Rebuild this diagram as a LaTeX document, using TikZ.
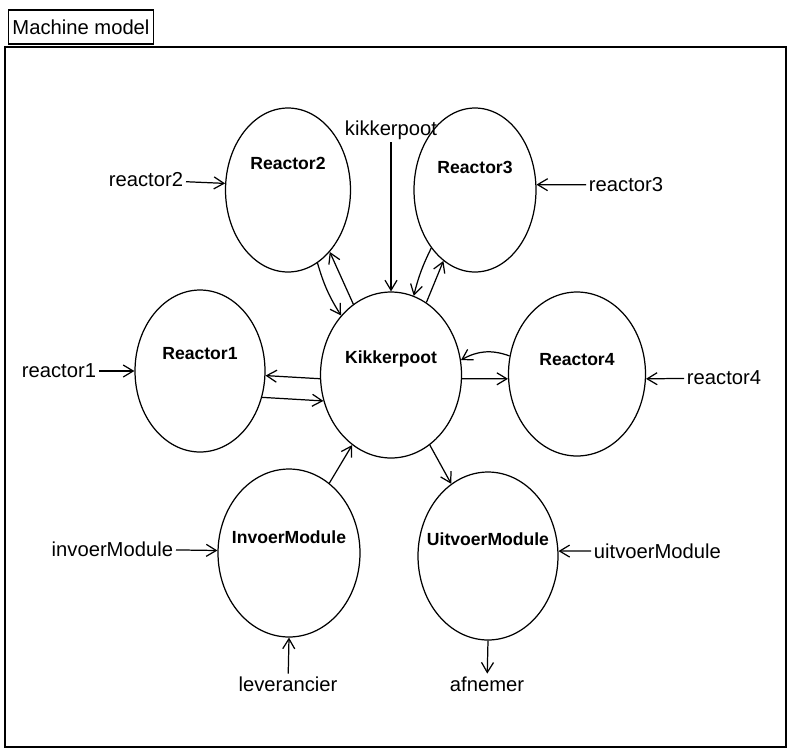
\documentclass[tikz,border=0pt]{standalone}
\usepackage{fontspec}
\setmainfont{Liberation Sans}
\usepackage{tikz}
\usetikzlibrary{arrows.meta, shapes.geometric}

\begin{document}
\begin{tikzpicture}[
  x=0.02cm, y=-0.02cm,
  unit/.style={draw, ellipse, line width=0.7pt, inner sep=0pt},
  unitname/.style={font=\bfseries\fontsize{10}{12}\selectfont, inner sep=0pt},
  lbl/.style={font=\fontsize{11.5}{13}\selectfont, inner sep=1.5pt},
  titlebox/.style={draw, line width=1pt, fill=white, minimum width=2.9cm, minimum height=0.68cm, inner sep=2pt, font=\fontsize{11.5}{13}\selectfont},
  frame/.style={line width=1.5pt},
  arrow/.style={-{Straight Barb[length=2mm, width=2.4mm]}, line width=0.7pt}
]
\useasboundingbox (0,0) rectangle (791,751);

% frame and title
\draw[frame] (5,47) rectangle (786,747);
\node[titlebox] (title) at (81,27) {Machine model};

% units
\node[unit, minimum width=2.5cm, minimum height=3.28cm, label={[unitname, yshift=0.54cm]center:Reactor2}] (r2) at (288,190) {};
\node[unit, minimum width=2.44cm, minimum height=3.28cm, label={[unitname, yshift=0.46cm]center:Reactor3}] (r3) at (475,190) {};
\node[unit, minimum width=2.6cm, minimum height=3.24cm, label={[unitname, yshift=0.34cm]center:Reactor1}] (r1) at (200,371) {};
\node[unit, minimum width=2.82cm, minimum height=3.32cm, label={[unitname, yshift=0.32cm]center:Kikkerpoot}] (kik) at (391,375) {};
\node[unit, minimum width=2.74cm, minimum height=3.28cm, label={[unitname, yshift=0.28cm]center:Reactor4}] (r4) at (577,374) {};
\node[unit, minimum width=2.84cm, minimum height=3.36cm, label={[unitname, yshift=0.32cm]center:InvoerModule}] (inv) at (289,553) {};
\node[unit, minimum width=2.8cm, minimum height=3.36cm, label={[unitname, yshift=0.34cm]center:UitvoerModule}] (uit) at (488,556) {};

% inputs and outputs
\node[lbl] (kin) at (391,130) {kikkerpoot};
\node[lbl, anchor=east] (r2in) at (186,180) {reactor2};
\node[lbl, anchor=west] (r3in) at (586,185) {reactor3};
\node[lbl, anchor=east] (r1in) at (99,371) {reactor1};
\node[lbl, anchor=west] (r4in) at (684,378) {reactor4};
\node[lbl, anchor=east] (invin) at (176,549) {invoerModule};
\node[lbl, anchor=west] (uitin) at (591,551) {uitvoerModule};
\node[lbl] (lev) at (288,684) {leverancier};
\node[lbl] (afn) at (487,684) {afnemer};

\draw[arrow] (kin) -- (kik.north);
\draw[arrow] (r2in) -- (r2.174);
\draw[arrow] (r3in) -- (r3.5);
\draw[arrow] (r1in) -- (r1.west);
\draw[arrow] (r4in) -- (r4.-4);
\draw[arrow] (invin) -- (inv.178);
\draw[arrow] (uitin) -- (uit.4);
\draw[arrow] (lev) -- (inv.south);
\draw[arrow] (uit.south) -- (afn);

% links to Kikkerpoot
\draw[arrow] (r2.-68) to[bend right=8] (kik.130);
\draw[arrow] (kik.118) -- (r2.-56);
\draw[arrow] (r3.-127) to[bend right=6] (kik.74);
\draw[arrow] (kik.64) -- (r3.-114);
\draw[arrow] (kik.183) -- (r1.-4);
\draw[arrow] (r1.-23) -- (kik.201);
\draw[arrow] (r4.165) to[bend right=25] (kik.12);
\draw[arrow] (kik.-3) -- (r4.184);
\draw[arrow] (inv.60) -- (kik.241);
\draw[arrow] (kik.-61) -- (uit.117);

\end{tikzpicture}
\end{document}
